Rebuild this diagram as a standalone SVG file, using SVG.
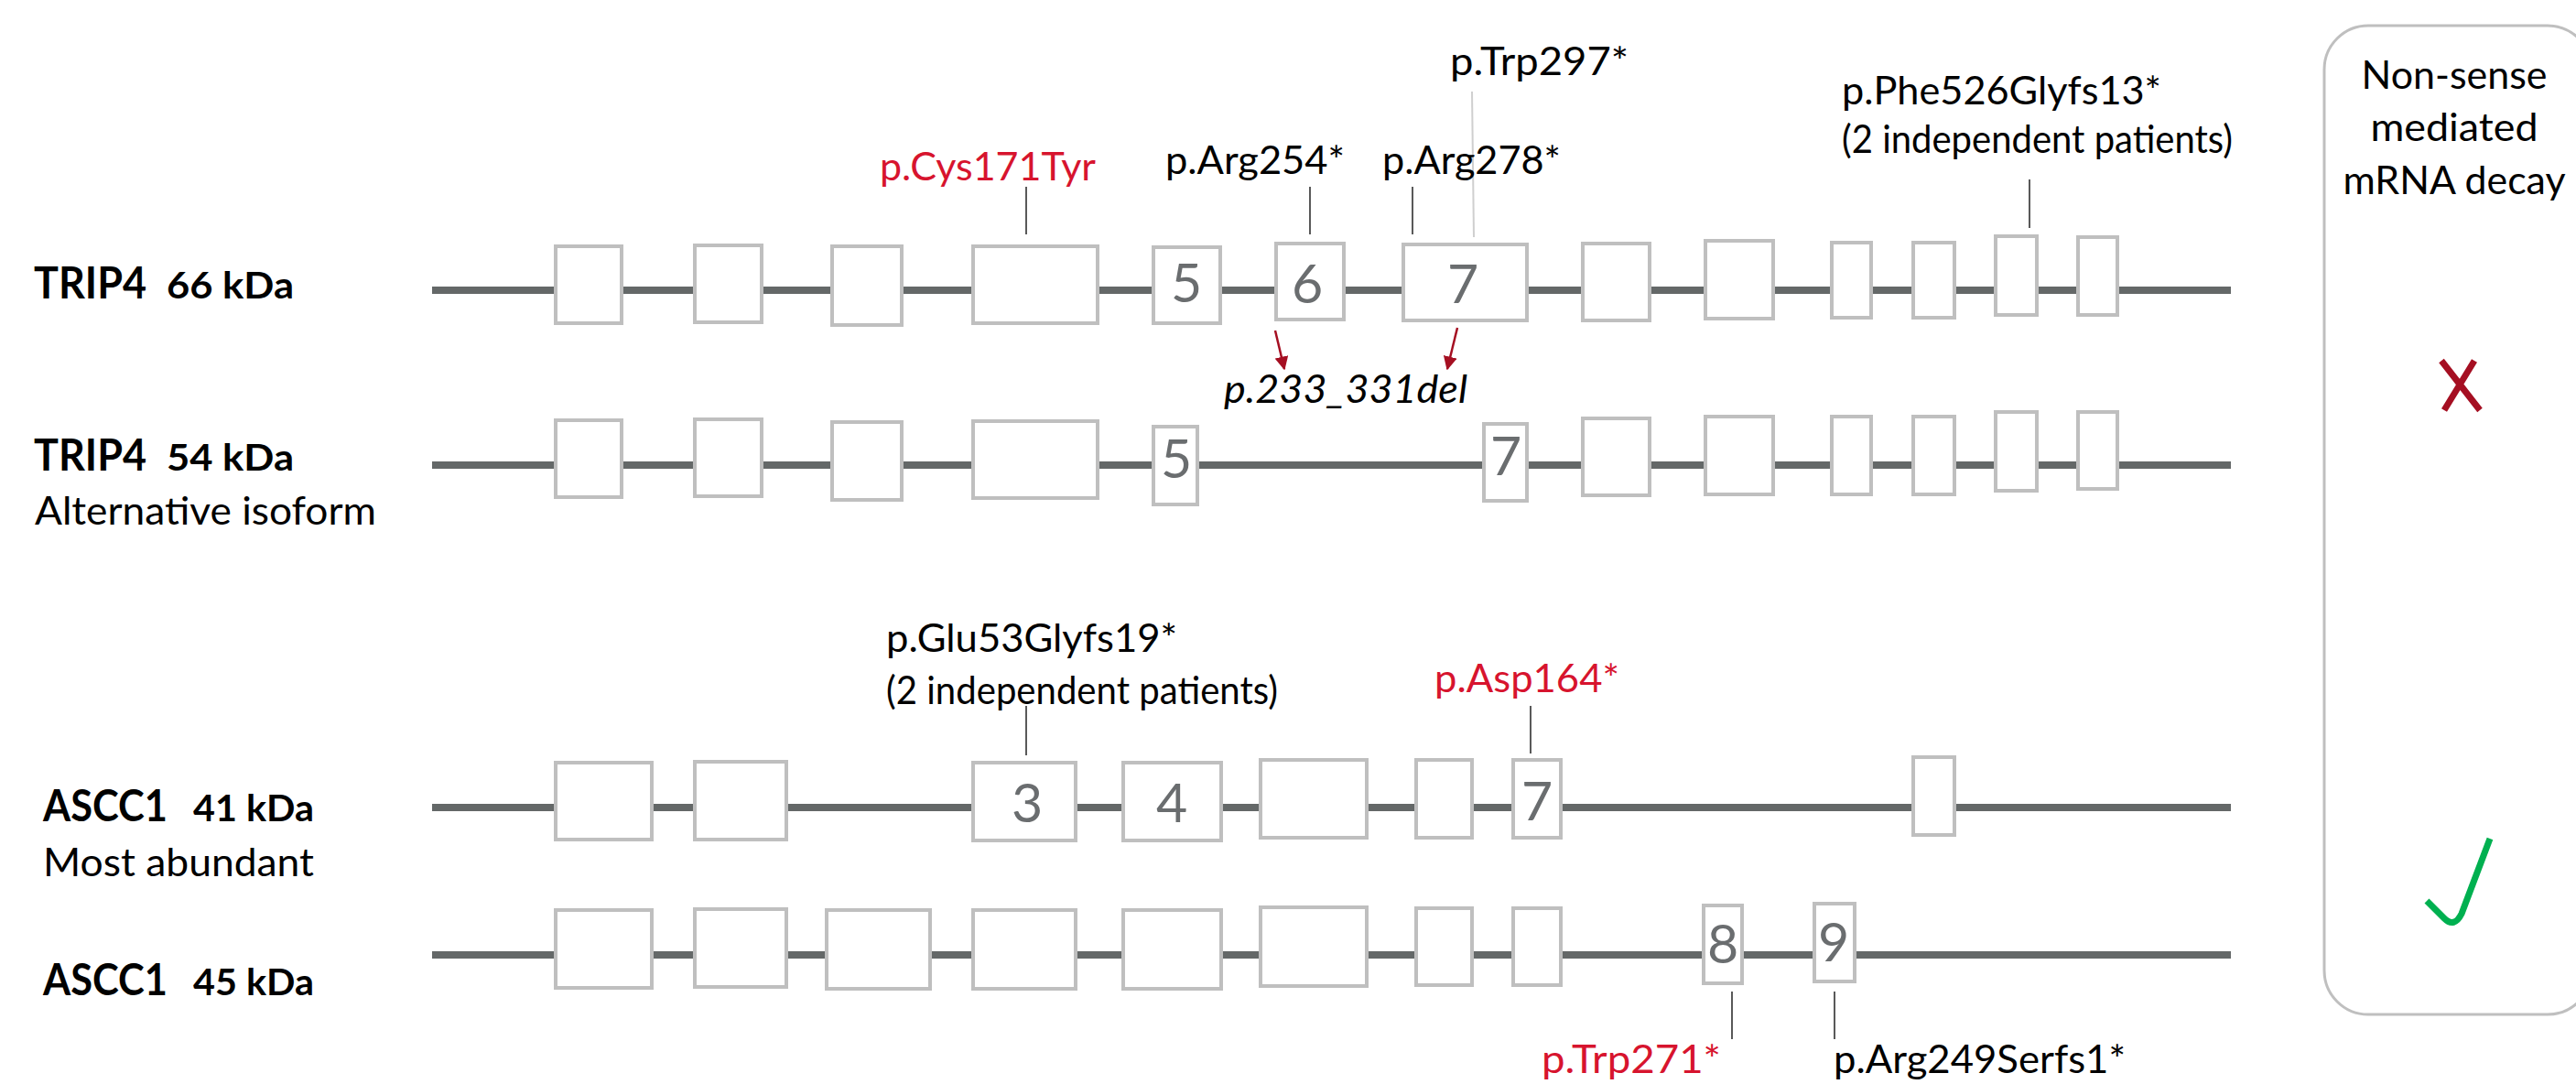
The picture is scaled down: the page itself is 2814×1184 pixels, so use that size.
<svg xmlns="http://www.w3.org/2000/svg" width="2814" height="1184" viewBox="0 0 2814 1184">
<defs>
<style>
text{font-family:Lato,"Liberation Sans",sans-serif;}
.title{font-weight:bold;font-size:47px;fill:#000;}
.kda{font-weight:bold;font-size:41px;fill:#000;}
.sub{font-size:43px;fill:#000;}
.lab{font-size:43px;fill:#000;}
.red{font-size:43px;fill:#d7142e;}
.ital{font-size:43px;font-style:italic;fill:#000;}
.num{font-size:59px;fill:#6a6d6f;text-anchor:middle;}
.intron{stroke:#646868;stroke-width:8;fill:none;}
.exon{fill:#fff;stroke:#bfbfbf;stroke-width:4;}
.tick{stroke:#595959;stroke-width:2;}
.arrow{stroke:#a50f22;stroke-width:2.5;marker-end:url(#ah);}
.panel{fill:none;stroke:#bfbfbf;stroke-width:3;}
.nmd{font-size:43px;fill:#000;text-anchor:middle;}
</style>
<marker id="ah" viewBox="0 0 10 10" refX="9" refY="5" markerWidth="6" markerHeight="6" markerUnits="strokeWidth" orient="auto">
<path d="M0,0 L10,5 L0,10 z" fill="#a50f22"/>
</marker>
</defs>
<rect width="2814" height="1184" fill="#fff"/>

<g id="connectors">
<line class="intron" x1="472" y1="317" x2="2437" y2="317"/>
<line class="intron" x1="472" y1="508" x2="2437" y2="508"/>
<line class="intron" x1="472" y1="882" x2="2437" y2="882"/>
<line class="intron" x1="472" y1="1043" x2="2437" y2="1043"/>
<line class="tick" x1="1121" y1="204" x2="1121" y2="256"/>
<line class="tick" x1="1431" y1="204" x2="1431" y2="256"/>
<line class="tick" x1="1543" y1="204" x2="1543" y2="256"/>
<line x1="1608" y1="100" x2="1610" y2="259" stroke="#cfcfcf" stroke-width="2"/>
<line class="tick" x1="2217" y1="196" x2="2217" y2="249"/>
<line class="tick" x1="1121" y1="771" x2="1121" y2="825"/>
<line class="tick" x1="1672" y1="771" x2="1672" y2="823"/>
<line class="tick" x1="1892" y1="1083" x2="1892" y2="1135"/>
<line class="tick" x1="2004" y1="1083" x2="2004" y2="1135"/>
<line class="arrow" x1="1393" y1="361" x2="1403" y2="403"/>
<line class="arrow" x1="1592" y1="358" x2="1581" y2="403"/>
</g>

<g id="trip4-66">
<text class="title" x="37" y="326" textLength="123" lengthAdjust="spacingAndGlyphs">TRIP4</text>
<text class="kda" x="182" y="326" textLength="139" lengthAdjust="spacingAndGlyphs">66 kDa</text>
<rect class="exon" x="607" y="269" width="72" height="84"/>
<rect class="exon" x="759" y="268" width="73" height="84"/>
<rect class="exon" x="909" y="269" width="76" height="86"/>
<rect class="exon" x="1063" y="269" width="136" height="84"/>
<rect class="exon" x="1260" y="270" width="73" height="83"/>
<text class="num" x="1296" y="330">5</text>
<rect class="exon" x="1394" y="266" width="74" height="83"/>
<text class="num" x="1428" y="331">6</text>
<rect class="exon" x="1533" y="267" width="135" height="83"/>
<text class="num" x="1598" y="331">7</text>
<rect class="exon" x="1729" y="266" width="73" height="84"/>
<rect class="exon" x="1863" y="263" width="74" height="85"/>
<rect class="exon" x="2001" y="265" width="43" height="82"/>
<rect class="exon" x="2090" y="265" width="45" height="82"/>
<rect class="exon" x="2180" y="258" width="45" height="86"/>
<rect class="exon" x="2270" y="259" width="43" height="85"/>
</g>

<g id="trip4-54">
<text class="title" x="37" y="514" textLength="123" lengthAdjust="spacingAndGlyphs">TRIP4</text>
<text class="kda" x="182" y="514" textLength="139" lengthAdjust="spacingAndGlyphs">54 kDa</text>
<text class="sub" x="38" y="573" textLength="373" lengthAdjust="spacingAndGlyphs">Alternative isoform</text>
<rect class="exon" x="607" y="459" width="72" height="84"/>
<rect class="exon" x="759" y="458" width="73" height="84"/>
<rect class="exon" x="909" y="461" width="76" height="85"/>
<rect class="exon" x="1063" y="460" width="136" height="84"/>
<rect class="exon" x="1260" y="466" width="48" height="85"/>
<text class="num" x="1285" y="522">5</text>
<rect class="exon" x="1621" y="463" width="47" height="84"/>
<text class="num" x="1645" y="519">7</text>
<rect class="exon" x="1729" y="457" width="73" height="84"/>
<rect class="exon" x="1863" y="455" width="74" height="85"/>
<rect class="exon" x="2001" y="455" width="43" height="85"/>
<rect class="exon" x="2090" y="455" width="45" height="85"/>
<rect class="exon" x="2180" y="450" width="45" height="86"/>
<rect class="exon" x="2270" y="450" width="43" height="84"/>
</g>

<g id="ascc1-41">
<text class="title" x="47" y="897" textLength="136" lengthAdjust="spacingAndGlyphs">ASCC1</text>
<text class="kda" x="211" y="897" textLength="132" lengthAdjust="spacingAndGlyphs">41 kDa</text>
<text class="sub" x="47" y="957" textLength="296" lengthAdjust="spacingAndGlyphs">Most abundant</text>
<rect class="exon" x="607" y="833" width="105" height="84"/>
<rect class="exon" x="759" y="832" width="100" height="85"/>
<rect class="exon" x="1063" y="833" width="112" height="85"/>
<text class="num" x="1122" y="898">3</text>
<rect class="exon" x="1227" y="833" width="107" height="85"/>
<text class="num" x="1280" y="898">4</text>
<rect class="exon" x="1377" y="830" width="116" height="85"/>
<rect class="exon" x="1547" y="830" width="61" height="85"/>
<rect class="exon" x="1653" y="830" width="52" height="85"/>
<text class="num" x="1679" y="896">7</text>
<rect class="exon" x="2090" y="827" width="45" height="85"/>
</g>

<g id="ascc1-45">
<text class="title" x="47" y="1087" textLength="136" lengthAdjust="spacingAndGlyphs">ASCC1</text>
<text class="kda" x="211" y="1087" textLength="132" lengthAdjust="spacingAndGlyphs">45 kDa</text>
<rect class="exon" x="607" y="994" width="105" height="85"/>
<rect class="exon" x="759" y="993" width="100" height="85"/>
<rect class="exon" x="903" y="994" width="113" height="86"/>
<rect class="exon" x="1063" y="994" width="112" height="86"/>
<rect class="exon" x="1227" y="994" width="107" height="86"/>
<rect class="exon" x="1377" y="991" width="116" height="86"/>
<rect class="exon" x="1547" y="992" width="61" height="84"/>
<rect class="exon" x="1653" y="992" width="52" height="84"/>
<rect class="exon" x="1861" y="989" width="42" height="85"/>
<text class="num" x="1882" y="1052">8</text>
<rect class="exon" x="1982" y="987" width="44" height="85"/>
<text class="num" x="2003" y="1050">9</text>
</g>

<g id="labels">
<text class="red" x="961" y="197" textLength="236" lengthAdjust="spacingAndGlyphs">p.Cys171Tyr</text>
<text class="lab" x="1273" y="190" textLength="196" lengthAdjust="spacingAndGlyphs">p.Arg254*</text>
<text class="lab" x="1510" y="190" textLength="195" lengthAdjust="spacingAndGlyphs">p.Arg278*</text>
<text class="lab" x="1584" y="82" textLength="195" lengthAdjust="spacingAndGlyphs">p.Trp297*</text>
<text class="ital" x="1337" y="440" textLength="266" lengthAdjust="spacingAndGlyphs">p.233_331del</text>
<text class="lab" x="2012" y="114" textLength="349" lengthAdjust="spacingAndGlyphs">p.Phe526Glyfs13*</text>
<text class="lab" x="2012" y="167" textLength="427" lengthAdjust="spacingAndGlyphs">(2 independent patients)</text>
<text class="lab" x="968" y="712" textLength="318" lengthAdjust="spacingAndGlyphs">p.Glu53Glyfs19*</text>
<text class="lab" x="968" y="769" textLength="428" lengthAdjust="spacingAndGlyphs">(2 independent patients)</text>
<text class="red" x="1567" y="756" textLength="202" lengthAdjust="spacingAndGlyphs">p.Asp164*</text>
<text class="red" x="1684" y="1172" textLength="196" lengthAdjust="spacingAndGlyphs">p.Trp271*</text>
<text class="lab" x="2003" y="1172" textLength="319" lengthAdjust="spacingAndGlyphs">p.Arg249Serfs1*</text>
</g>

<g id="nmd-panel">
<rect class="panel" x="2539" y="28" width="292" height="1080" rx="48" ry="48"/>
<text class="nmd" x="2681" y="97" textLength="203" lengthAdjust="spacingAndGlyphs">Non-sense</text>
<text class="nmd" x="2681" y="154" textLength="183" lengthAdjust="spacingAndGlyphs">mediated</text>
<text class="nmd" x="2681" y="212" textLength="243" lengthAdjust="spacingAndGlyphs">mRNA decay</text>
<path d="M2667,394 L2709,448 M2703,394 L2670,448" stroke="#a50f22" stroke-width="7" fill="none"/>
<path d="M2651,984 L2670,1003 Q2681,1014 2689,998 L2720,916" stroke="#00b050" stroke-width="7" fill="none"/>
</g>
</svg>
